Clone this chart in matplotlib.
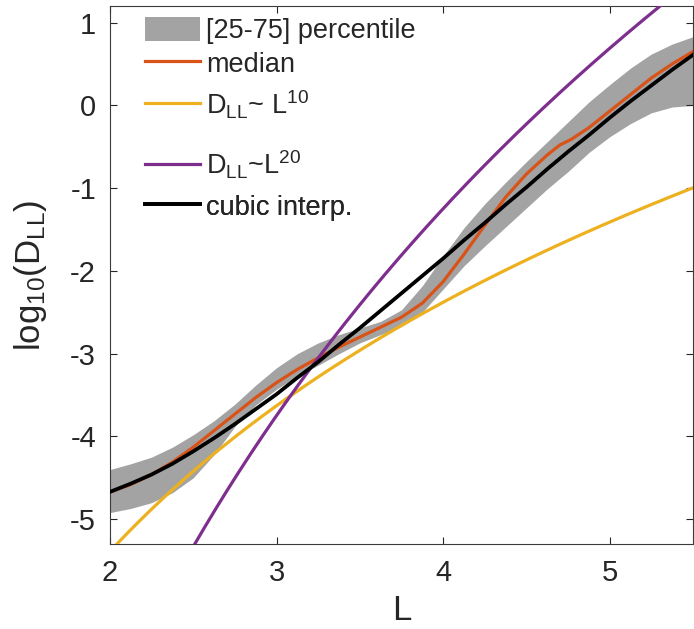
import numpy as np
import matplotlib
matplotlib.use("Agg")
import matplotlib.pyplot as plt
from matplotlib.patches import Patch
from matplotlib.lines import Line2D

plt.rcParams['font.family'] = ['Liberation Sans', 'DejaVu Sans']
plt.rcParams['mathtext.fontset'] = 'custom'
plt.rcParams['mathtext.rm'] = 'Liberation Sans'
plt.rcParams['mathtext.it'] = 'Liberation Sans'
plt.rcParams['mathtext.default'] = 'regular'
plt.rcParams['axes.unicode_minus'] = False

# ---- data ----
L_band = [2.0, 2.125, 2.25, 2.375, 2.5, 2.625, 2.75, 2.875, 3.0, 3.125, 3.25, 3.375,
          3.5, 3.625, 3.75, 3.875, 4.0, 4.125, 4.25, 4.375, 4.5, 4.625, 4.75, 4.875,
          5.0, 5.125, 5.25, 5.375, 5.5]
band_upper = [-4.40, -4.33, -4.25, -4.13, -3.98, -3.81, -3.61, -3.38, -3.17, -3.00, -2.87, -2.77,
              -2.69, -2.61, -2.47, -2.18, -1.82, -1.48, -1.19, -0.93, -0.68, -0.44, -0.20, 0.04,
              0.25, 0.45, 0.62, 0.74, 0.83]
band_lower = [-4.92, -4.87, -4.80, -4.68, -4.50, -4.22, -3.88, -3.62, -3.43, -3.27, -3.14, -3.00,
              -2.87, -2.77, -2.67, -2.50, -2.22, -1.94, -1.70, -1.47, -1.24, -1.01, -0.80, -0.57,
              -0.38, -0.22, -0.09, -0.02, 0.00]

L_median = [2.0, 2.125, 2.25, 2.375, 2.5, 2.625, 2.75, 2.875, 3.0, 3.125, 3.25, 3.375,
            3.5, 3.625, 3.75, 3.875, 4.0, 4.125, 4.25, 4.375, 4.5, 4.625, 4.7, 4.77,
            4.875, 5.0, 5.125, 5.25, 5.375, 5.5]
median = [-4.67, -4.58, -4.46, -4.31, -4.13, -3.93, -3.73, -3.53, -3.35, -3.19, -3.05, -2.92,
          -2.80, -2.68, -2.56, -2.39, -2.13, -1.80, -1.45, -1.11, -0.83, -0.60, -0.48, -0.41,
          -0.27, -0.07, 0.13, 0.33, 0.50, 0.65]

L_cubic = [2.0, 2.125, 2.25, 2.375, 2.5, 2.625, 2.75, 2.875, 3.0, 3.125, 3.25, 3.375,
           3.5, 3.625, 3.75, 3.875, 4.0, 4.125, 4.25, 4.375, 4.5, 4.625, 4.75,
           4.875, 5.0, 5.125, 5.25, 5.375, 5.5]
cubic = [-4.67, -4.57, -4.46, -4.33, -4.18, -4.02, -3.85, -3.67, -3.49, -3.29, -3.10, -2.89,
         -2.69, -2.48, -2.27, -2.06, -1.85, -1.63, -1.42, -1.20, -0.99, -0.77, -0.56,
         -0.36, -0.15, 0.05, 0.24, 0.43, 0.61]

# power-law reference lines: log10(D_LL) = intercept + exponent * log10(L)
exponents = [10, 20]
intercepts = [-8.40, -13.29]

labels = ['[25-75] percentile', 'median',
          r'D$_{LL}$~ L$^{10}$', r'D$_{LL}$~L$^{20}$', 'cubic interp.']
x_ticks = [2, 3, 4, 5]
y_ticks = [-5, -4, -3, -2, -1, 0, 1]

c_band = '#a3a3a3'
c_med = '#D95319'
c_y = '#EDB120'
c_p = '#7E2F8E'
c_k = '#000000'
c_ax = '#262626'

fig = plt.figure(figsize=(6.94, 6.29), dpi=100)
ax = fig.add_axes([0.1585, 0.1351, 0.8400, 0.8553])

ax.fill_between(L_band, band_lower, band_upper, color=c_band, lw=0, zorder=1)
ax.plot(L_median, median, color=c_med, lw=2.3, zorder=2, solid_joinstyle='round')
Lg = np.linspace(2.0, 5.5, 300)
ax.plot(Lg, intercepts[0] + exponents[0] * np.log10(Lg), color=c_y, lw=2.3, zorder=3)
ax.plot(Lg, intercepts[1] + exponents[1] * np.log10(Lg), color=c_p, lw=2.3, zorder=4)
ax.plot(L_cubic, cubic, color=c_k, lw=2.7, zorder=5, solid_joinstyle='round')

ax.set_xlim(2, 5.5)
ax.set_ylim(-5.3, 1.2)
ax.set_xticks(x_ticks)
ax.set_yticks(y_ticks)
ax.tick_params(direction='in', top=True, right=True, length=5, width=0.8,
               colors=c_ax, labelsize=21, labelcolor=c_ax)
ax.tick_params(axis='x', pad=11)
ax.tick_params(axis='y', pad=10)
for s in ax.spines.values():
    s.set_color('#3a3a3a')
    s.set_linewidth(0.8)

ax.set_xlabel('L', fontsize=25, color=c_ax, labelpad=5)
ax.set_ylabel(r'log$_{10}$(D$_{LL}$)', fontsize=25, color=c_ax, labelpad=15)

handles = [Patch(facecolor=c_band, edgecolor='none'),
           Line2D([], [], color=c_med, lw=2.3),
           Line2D([], [], color=c_y, lw=2.3),
           Line2D([], [], color=c_p, lw=2.3),
           Line2D([], [], color=c_k, lw=2.7)]
# one legend row per entry, so each row sits where it does in the reference
row_y = [0.955, 0.892, 0.817, 0.704, 0.626]
for h, lab, yy in zip(handles, labels, row_y):
    lg = ax.legend([h], [lab], loc='center left', bbox_to_anchor=(0.06, yy),
                   frameon=False, fontsize=19.5, handlelength=2.05, handletextpad=0.2,
                   handleheight=1.0, borderpad=0.0, borderaxespad=0.0)
    for t in lg.get_texts():
        t.set_color(c_ax)
    ax.add_artist(lg)

fig.savefig('out.png', dpi=100)
